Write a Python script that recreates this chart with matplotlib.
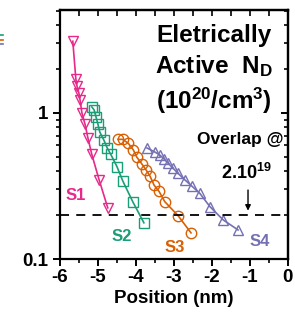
import matplotlib
matplotlib.use("Agg")
import matplotlib.pyplot as plt
from matplotlib.ticker import FixedLocator, NullFormatter, LogLocator, MultipleLocator
import numpy as np

plt.rcParams['font.family'] = ['Liberation Sans', 'DejaVu Sans']
plt.rcParams['font.weight'] = 'bold'
plt.rcParams['mathtext.fontset'] = 'custom'
plt.rcParams['mathtext.rm'] = 'Liberation Sans:bold'
plt.rcParams['mathtext.bf'] = 'Liberation Sans:bold'
plt.rcParams['mathtext.it'] = 'Liberation Sans:bold'
plt.rcParams['mathtext.default'] = 'bf'

s1_x = [-5.66, -5.58, -5.55, -5.50, -5.47, -5.42, -5.34, -5.26, -5.16, -4.97, -4.74]
s1_y = [3.1, 1.71, 1.53, 1.37, 1.23, 1.0, 0.84, 0.67, 0.52, 0.35, 0.224]
s2_x = [-5.16, -5.10, -5.05, -5.00, -4.95, -4.84, -4.76, -4.66, -4.50, -4.34, -4.08, -3.79]
s2_y = [1.1, 1.05, 0.94, 0.84, 0.74, 0.65, 0.58, 0.52, 0.43, 0.34, 0.246, 0.177]
s3_x = [-4.47, -4.35, -4.20, -4.07, -3.98, -3.85, -3.74, -3.63, -3.52, -3.39, -3.24, -2.89, -2.55]
s3_y = [0.66, 0.66, 0.62, 0.56, 0.50, 0.45, 0.41, 0.37, 0.32, 0.29, 0.247, 0.198, 0.151]
s4_x = [-3.71, -3.50, -3.37, -3.26, -3.15, -3.02, -2.89, -2.71, -2.53, -2.32, -2.05, -1.70, -1.31]
s4_y = [0.576, 0.54, 0.515, 0.484, 0.452, 0.418, 0.386, 0.348, 0.316, 0.282, 0.228, 0.185, 0.158]
overlap_level = 0.2

series = [
    ("S1", s1_x, s1_y, 'v', '#e7298a', (-5.58, 0.274)),
    ("S2", s2_x, s2_y, 's', '#1b9e77', (-4.37, 0.1415)),
    ("S3", s3_x, s3_y, 'o', '#d95f02', (-2.97, 0.119)),
    ("S4", s4_x, s4_y, '^', '#7570b3', (-0.74, 0.131)),
]

fig = plt.figure(figsize=(2.95, 3.18), dpi=100)
ax = fig.add_axes([0.203, 0.1855, 0.773, 0.783])

for name, xs, ys, m, c, lp in series:
    ax.plot(xs, ys, color=c, lw=1.2, marker=m, ms=7.5, mfc='none', mec=c, mew=1.0)
    ax.text(lp[0], lp[1], name, color=c, fontsize=12, fontweight='bold', ha='center', va='center')

ax.axhline(overlap_level, color='black', lw=1.3, ls=(0, (5, 4)))

ax.set_yscale('log')
ax.set_xlim(-6, 0)
ax.set_ylim(0.1, 5.07)
ax.yaxis.set_major_locator(FixedLocator([0.1, 1]))
ax.set_yticklabels(['0.1', '1'])
ax.yaxis.set_minor_locator(LogLocator(base=10, subs=np.arange(2, 10)))
ax.yaxis.set_minor_formatter(NullFormatter())
ax.xaxis.set_minor_locator(MultipleLocator(0.5))
ax.set_xticks([-6, -5, -4, -3, -2, -1, 0])
ax.set_xticklabels(['-6', '-5', '-4', '-3', '-2', '-1', '0'])

for sp in ax.spines.values():
    sp.set_linewidth(1.6)

ax.tick_params(which='major', direction='out', length=5, width=1.4, labelsize=13.5)
ax.tick_params(which='minor', direction='out', length=3, width=1.2)
ax.tick_params(axis='x', pad=2)
for lab in ax.get_xticklabels() + ax.get_yticklabels():
    lab.set_fontweight('bold')

secx = ax.secondary_xaxis('top')
secx.xaxis.set_major_locator(MultipleLocator(0.5))
secx.tick_params(which='major', direction='in', length=4, width=1.2, labelsize=0)
secx.set_xticklabels([])
secx.spines['top'].set_linewidth(1.6)

secy = ax.secondary_yaxis('right')
secy.yaxis.set_major_locator(FixedLocator([0.1, 1]))
secy.yaxis.set_minor_locator(LogLocator(base=10, subs=np.arange(2, 10)))
secy.yaxis.set_minor_formatter(NullFormatter())
secy.set_yticklabels([])
secy.tick_params(which='major', direction='in', length=5, width=1.4)
secy.tick_params(which='minor', direction='in', length=3, width=1.2)
secy.spines['right'].set_linewidth(1.6)

ax.set_xlabel('Position (nm)', fontsize=13.5, fontweight='bold', labelpad=3)

ax.text(0.675, 0.76, 'Eletrically\nActive  N$_{D}$\n(10$^{20}$/cm$^{3}$)',
        transform=ax.transAxes, fontsize=17.5, fontweight='bold', ha='center', va='center',
        linespacing=1.3)
ax.text(0.98, 0.478, 'Overlap @', transform=ax.transAxes, fontsize=12.5,
        fontweight='bold', ha='right', va='center')
ax.text(-1.1, 0.39, '2.10$^{19}$', fontsize=13, fontweight='bold', ha='center', va='center')
ax.annotate('', xy=(-1.05, 0.205), xytext=(-1.05, 0.31),
            arrowprops=dict(arrowstyle='-|>', color='black', lw=1.0, mutation_scale=8))

# clipped legend fragments at the far left edge of the figure
for yy, c in [(0.89, '#1b9e77'), (0.875, '#d95f02'), (0.862, '#7570b3')]:
    fig.add_artist(plt.Line2D([0.0, 0.01], [yy, yy], color=c, lw=1.2, transform=fig.transFigure))

fig.savefig('out.png', dpi=100)
